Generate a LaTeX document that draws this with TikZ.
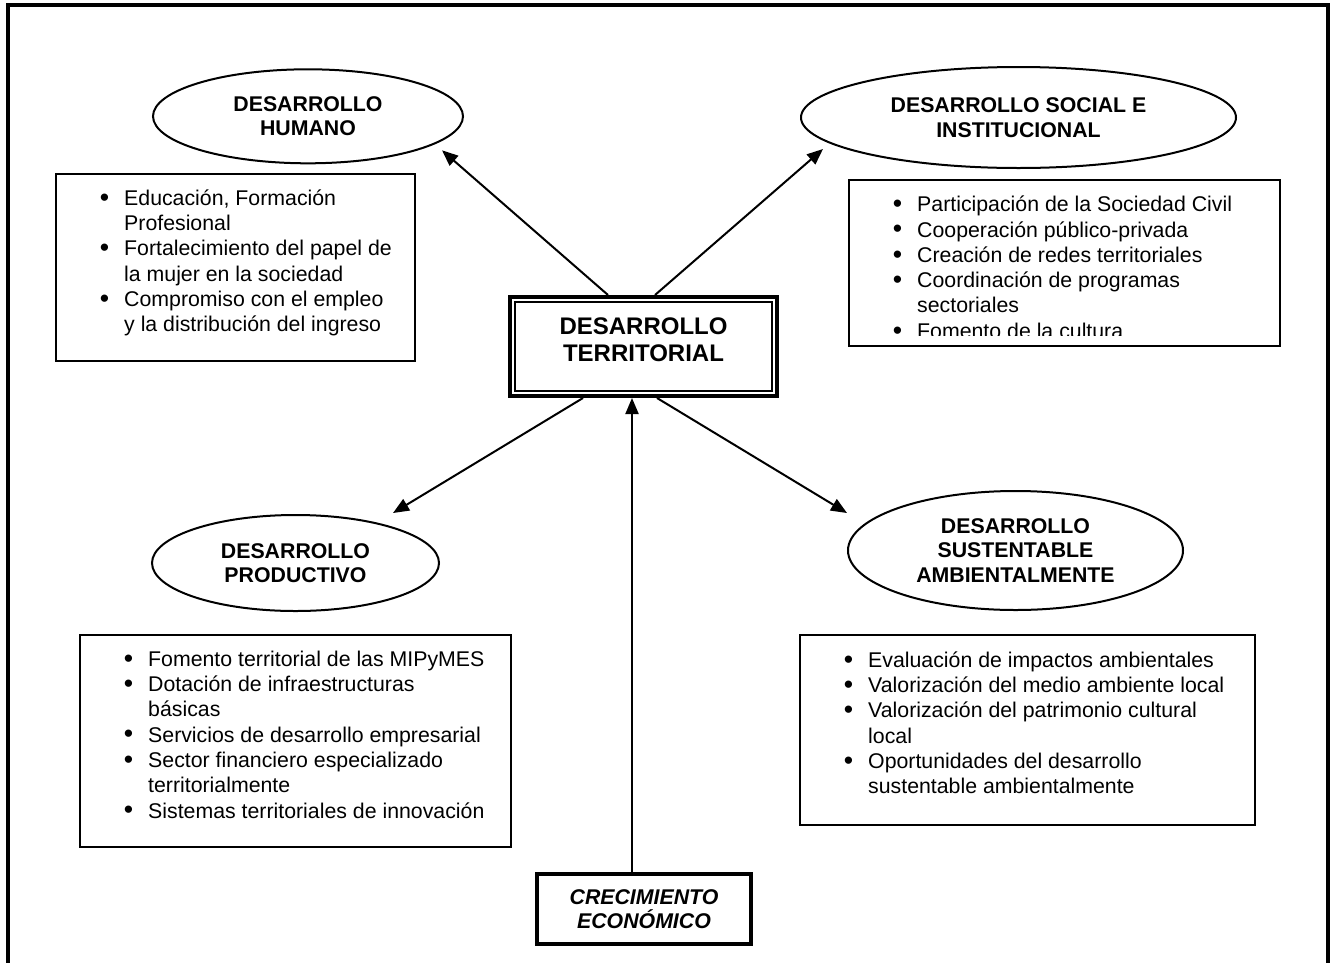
\documentclass[tikz,border=0pt]{standalone}
\usepackage{fontspec}
\setmainfont{Liberation Sans}
\usetikzlibrary{shapes.geometric,arrows.meta,calc}
\newcommand{\bu}{\llap{\raisebox{-0.8pt}{\scalebox{1.25}{\textbullet}}\hspace{15pt}}}
\begin{document}
\begin{tikzpicture}[x=1pt,y=-1pt,
  oval/.style={ellipse, draw, line width=2pt, inner sep=0pt, align=center, font=\fontsize{21.3}{24.5}\selectfont\bfseries},
  listbox/.style={draw, line width=2pt, inner sep=0pt},
  listtext/.style={anchor=north west, inner sep=0pt, align=left, font=\fontsize{21.3}{25.3}\selectfont},
  arr/.style={line width=2pt, -{Triangle[length=16pt,width=13pt]}},
  mainbox/.style={draw, line width=4pt, inner sep=0pt},
]
\useasboundingbox (0,0) rectangle (1334,962);
% outer frame (open at the bottom)
\draw[line width=4pt, line join=miter] (8,975) -- (8,5) -- (1328,5) -- (1328,975);

% Desarrollo humano
\node[oval, minimum width=310pt, minimum height=94pt] (hum) at (308,116.3) {DESARROLLO\\HUMANO};
\node[listbox, minimum width=359pt, minimum height=187pt] (humbox) at (235.5,267.5) {};
\node[listtext] (humtxt) at (124,187.3) {\strut\bu Educación, Formación\\Profesional\\\bu Fortalecimiento del papel de\\la mujer en la sociedad\\\bu Compromiso con el empleo\\y la distribución del ingreso};

% Desarrollo social e institucional
\node[oval, minimum width=435pt, minimum height=101pt] (soc) at (1018.5,117.5) {DESARROLLO SOCIAL E\\INSTITUCIONAL};
\node[listbox, minimum width=431pt, minimum height=166pt] (socbox) at (1064.5,263) {};
\begin{scope}
\clip (socbox.north west) rectangle ($(socbox.south east)+(0,-11.5)$);
\node[listtext] (soctxt) at (917,193.8) {\strut\bu Participación de la Sociedad Civil\\\bu Cooperación público-privada\\\bu Creación de redes territoriales\\\bu Coordinación de programas\\sectoriales\\\bu Fomento de la cultura};
\end{scope}

% Desarrollo territorial
\node[mainbox, minimum width=267pt, minimum height=99pt] (dt) at (643.5,346.5) {};
\draw[line width=2pt] ($(dt.north west)+(7,7)$) rectangle ($(dt.south east)+(-7,-7)$);
\node[align=center, font=\fontsize{24}{27}\selectfont\bfseries] (dttxt) at ($(dt.center)+(0,-6.5)$) {DESARROLLO\\TERRITORIAL};

% Desarrollo productivo
\node[oval, minimum width=287pt, minimum height=96pt] (prod) at (295.5,563) {DESARROLLO\\PRODUCTIVO};
\node[listbox, minimum width=431pt, minimum height=212pt] (prodbox) at (295.5,741) {};
\node[listtext] (prodtxt) at (148,648.3) {\strut\bu Fomento territorial de las MIPyMES\\\bu Dotación de infraestructuras\\básicas\\\bu Servicios de desarrollo empresarial\\\bu Sector financiero especializado\\territorialmente\\\bu Sistemas territoriales de innovación};

% Desarrollo sustentable ambientalmente
\node[oval, minimum width=335pt, minimum height=119pt] (sus) at (1015.5,550.5) {DESARROLLO\\SUSTENTABLE\\AMBIENTALMENTE};
\node[listbox, minimum width=455pt, minimum height=190pt] (susbox) at (1027.5,730) {};
\node[listtext] (sustxt) at (868,649.3) {\strut\bu Evaluación de impactos ambientales\\\bu Valorización del medio ambiente local\\\bu Valorización del patrimonio cultural\\local\\\bu Oportunidades del desarrollo\\sustentable ambientalmente};

% Crecimiento economico
\node[mainbox, minimum width=214pt, minimum height=70pt, align=center, font=\fontsize{21.3}{24.5}\selectfont\bfseries\itshape] (cre) at (644,909) {CRECIMIENTO\\ECONÓMICO};

% connectors
\draw[arr] ($(dt.north)+(-35.5,0)$) -- ($(hum.center)+(134,34)$);
\draw[arr] ($(dt.north)+(11.5,0)$) -- ($(soc.center)+(-195.5,31.5)$);
\draw[arr] ($(dt.south)+(-60.5,0)$) -- ($(prod.center)+(97.5,-50)$);
\draw[arr] ($(dt.south)+(13.5,0)$) -- ($(sus.center)+(-168.5,-37.5)$);
\draw[arr] ($(cre.north)+(-12,0)$) -- ($(dt.south)+(-11.5,0)$);
\end{tikzpicture}
\end{document}
